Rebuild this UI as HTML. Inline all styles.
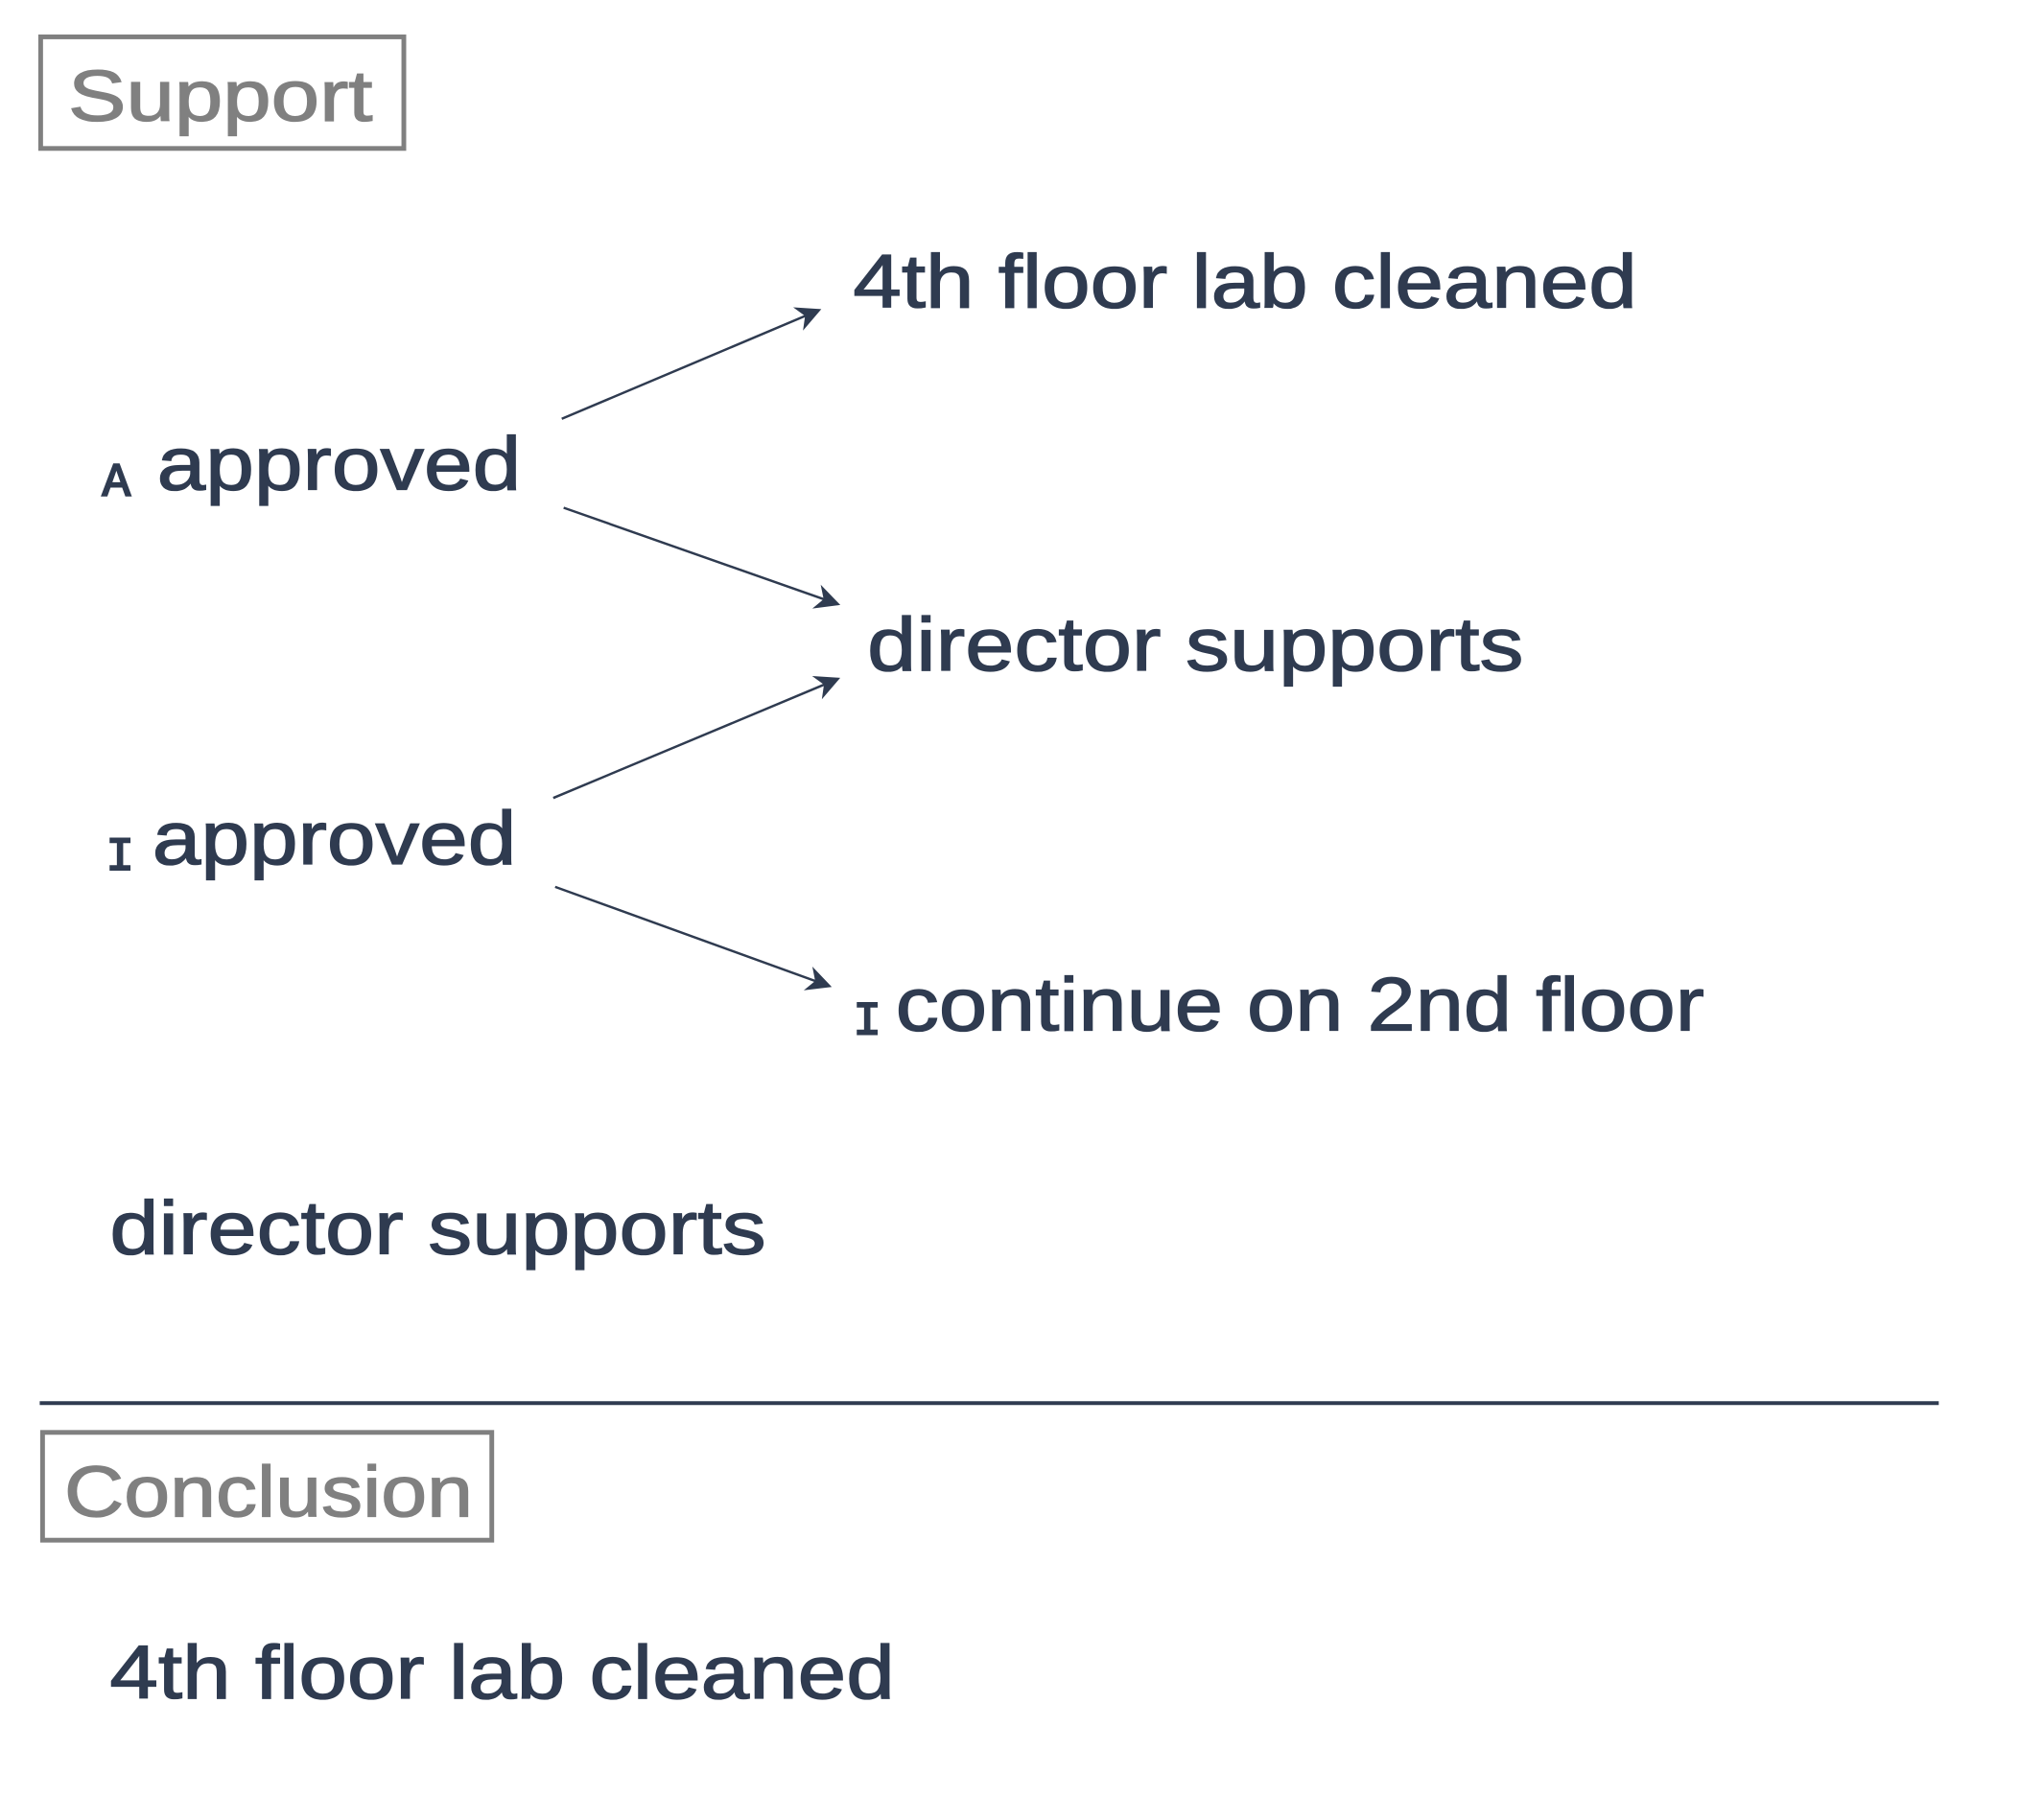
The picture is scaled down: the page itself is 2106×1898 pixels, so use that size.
<!DOCTYPE html>
<html><head><meta charset="utf-8"><style>
html,body{margin:0;padding:0;background:#fff;}
svg{display:block}
text{font-family:"Liberation Sans",sans-serif;fill:#2f3b50;stroke:#2f3b50;stroke-width:1.3}
.m{font-family:"Liberation Mono",monospace;stroke-width:2}
.g{fill:#808080;stroke:#808080}
</style></head><body>
<svg width="2106" height="1898" viewBox="0 0 2106 1898" xmlns="http://www.w3.org/2000/svg">
<defs>
<marker id="a" viewBox="0 0 12 12" refX="10" refY="6" markerWidth="32" markerHeight="32" markerUnits="userSpaceOnUse" orient="auto"><path d="M1,1 L11,6 L1,11 L4,6 Z" fill="#2f3b50"/></marker></defs>
<g transform="scale(0.986)">
<rect x="43" y="39" width="384" height="118" fill="none" stroke="#808080" stroke-width="5"/>
<text class="g" x="72" y="128" font-size="76" textLength="322" lengthAdjust="spacingAndGlyphs">Support</text>
<text x="902" y="325" font-size="80" textLength="829" lengthAdjust="spacingAndGlyphs">4th floor lab cleaned</text>
<text class="m" x="108" y="524" font-size="50">A</text>
<text x="166" y="518" font-size="80" textLength="385" lengthAdjust="spacingAndGlyphs">approved</text>
<text x="917" y="709" font-size="80" textLength="694" lengthAdjust="spacingAndGlyphs">director supports</text>
<text class="m" x="112" y="920" font-size="50">I</text>
<text x="161" y="914" font-size="80" textLength="385" lengthAdjust="spacingAndGlyphs">approved</text>
<text class="m" x="902" y="1094" font-size="50">I</text>
<text x="947" y="1090" font-size="80" textLength="855" lengthAdjust="spacingAndGlyphs">continue on 2nd floor</text>
<text x="116" y="1326" font-size="80" textLength="694" lengthAdjust="spacingAndGlyphs">director supports</text>
<line x1="42" y1="1484" x2="2050" y2="1484" stroke="#2f3b50" stroke-width="4"/>
<rect x="45" y="1515" width="475" height="114" fill="none" stroke="#808080" stroke-width="5"/>
<text class="g" x="68" y="1604" font-size="76" textLength="432" lengthAdjust="spacingAndGlyphs">Conclusion</text>
<text x="116" y="1796" font-size="80" textLength="830" lengthAdjust="spacingAndGlyphs">4th floor lab cleaned</text>
<g stroke="#2f3b50" stroke-width="2.5" fill="none" marker-end="url(#a)">
<line x1="594" y1="443" x2="866" y2="328"/>
<line x1="596" y1="537" x2="886" y2="639"/>
<line x1="585" y1="844" x2="886" y2="718"/>
<line x1="587" y1="938" x2="877" y2="1043"/>
</g>
</g>
</svg>
</body></html>
